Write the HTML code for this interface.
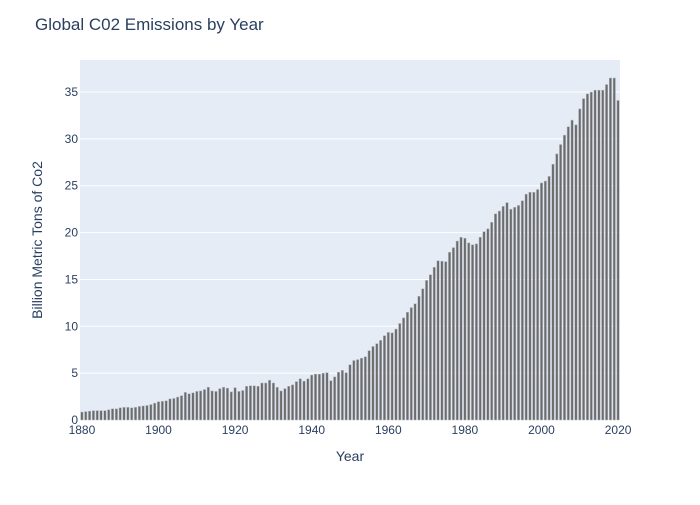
<!DOCTYPE html>
<html><head><meta charset="utf-8"><style>
body{margin:0;background:#fff;}
svg text{font-family:"Liberation Sans",sans-serif;fill:#2a3f5f;}
</style></head><body>
<svg width="700" height="500">
<rect x="0" y="0" width="700" height="500" fill="#fff"/>
<rect x="80" y="60" width="540" height="360" fill="#e5ecf6"/>
<g id="grid"></g>
<g id="bars"></g>
<g id="yticks"></g>
<g id="xticks"></g>
<text x="35" y="30" font-size="17">Global C02 Emissions by Year</text>
<text x="350" y="461" font-size="14" text-anchor="middle">Year</text>
<text x="42" y="240" font-size="14" text-anchor="middle" transform="rotate(-90 42 240)">Billion Metric Tons of Co2</text>
</svg>
<script>
const startYear = 1880;
const emissions = [
0.85,0.9,0.95,1.0,1.0,1.0,1.0,1.1,1.2,1.2,1.3,1.35,1.35,1.3,1.35,1.45,1.5,1.55,1.65,1.8,
1.95,2.0,2.05,2.25,2.3,2.45,2.6,2.95,2.8,2.9,3.05,3.1,3.25,3.5,3.1,3.05,3.35,3.5,3.4,3.0,
3.45,3.05,3.15,3.6,3.65,3.65,3.6,3.95,3.95,4.25,3.95,3.5,3.1,3.35,3.6,3.75,4.1,4.4,4.15,4.4,
4.8,4.9,4.9,5.0,5.05,4.2,4.6,5.1,5.3,5.05,5.9,6.35,6.45,6.6,6.75,7.4,7.85,8.15,8.5,9.0,
9.35,9.3,9.7,10.3,10.9,11.5,12.0,12.4,13.2,14.0,14.9,15.5,16.3,17.0,16.95,16.9,17.9,18.4,19.1,19.5,
19.4,18.9,18.7,18.8,19.5,20.1,20.4,21.1,22.0,22.3,22.8,23.2,22.5,22.7,22.9,23.4,24.1,24.3,24.3,24.6,
25.3,25.5,26.0,27.3,28.4,29.4,30.4,31.3,32.0,31.5,33.2,34.3,34.8,35.0,35.2,35.2,35.2,35.8,36.5,36.5,34.1];
const yTicks = [0,5,10,15,20,25,30,35];
const xTicks = [1880,1900,1920,1940,1960,1980,2000,2020];

const NS="http://www.w3.org/2000/svg";
const X0=80,X1=620,Y0=420,Y1=60;
const xMin=1879.5,xMax=2020.5,yMax=38.42;
const xs=v=>X0+(v-xMin)/(xMax-xMin)*(X1-X0);
const ys=v=>Y0-v/yMax*(Y0-Y1);
function mk(tag,attrs,parent,text){const e=document.createElementNS(NS,tag);for(const k in attrs)e.setAttribute(k,attrs[k]);if(text!==undefined)e.textContent=text;document.getElementById(parent).appendChild(e);return e;}
yTicks.forEach(t=>{
  if(t>0){const g=mk('line',{x1:X0,x2:X1,y1:ys(t),y2:ys(t),stroke:'#fff','stroke-width':1},'grid');
  
  }
  const l=mk('text',{x:X0-2,y:ys(t)+4,'font-size':12,'text-anchor':'end'},'yticks',String(t));
  
  
});
xTicks.forEach(t=>{
  const l=mk('text',{x:xs(t),y:Y0+14,'font-size':12,'text-anchor':'middle'},'xticks',String(t));
  
  
});
const bw=0.62;
emissions.forEach((v,i)=>{
  const yr=startYear+i;
  const x=xs(yr-bw/2), w=xs(yr+bw/2)-x;
  const b=mk('rect',{x:x,y:ys(v),width:w,height:Y0-ys(v),fill:'#6b6b6b',stroke:'#b4b8c0','stroke-width':0.5},'bars');
  
  
});
</script>
</body></html>
